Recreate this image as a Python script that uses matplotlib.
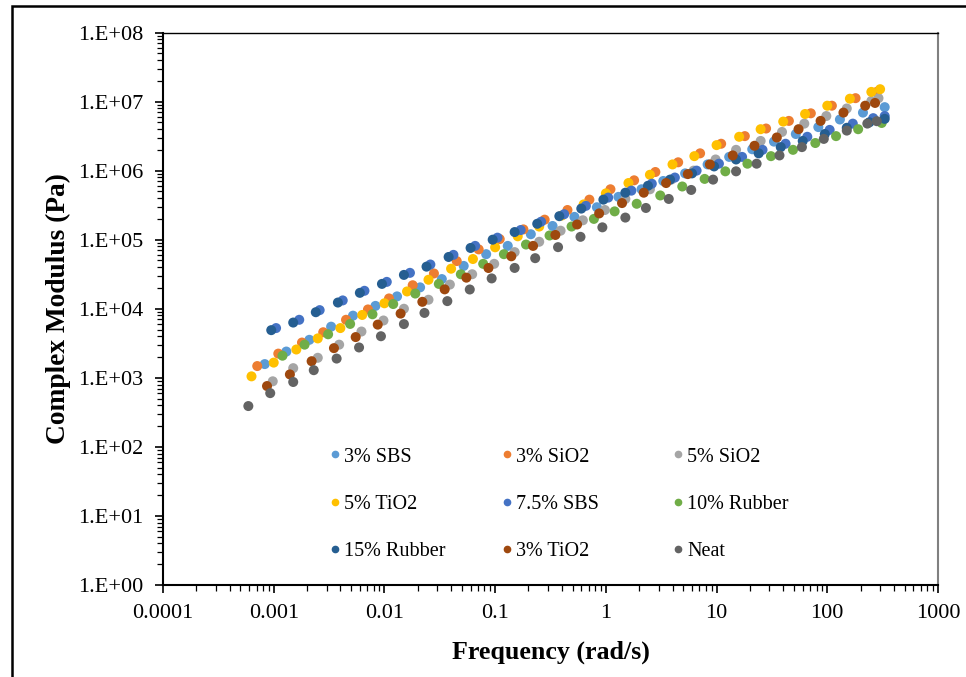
import numpy as np
import matplotlib.pyplot as plt
from matplotlib.ticker import LogLocator, FuncFormatter, NullFormatter
from matplotlib.patches import Rectangle
from matplotlib.legend import Legend

plt.rcParams['font.family'] = ['Liberation Serif', 'DejaVu Serif']

# Series names in legend order
labels = ['3% SBS', '3% SiO2', '5% SiO2', '5% TiO2', '7.5% SBS',
          '10% Rubber', '15% Rubber', '3% TiO2', 'Neat']
colors = ['#5B9BD5', '#ED7D31', '#A5A5A5', '#FFC000', '#4472C4',
          '#70AD47', '#255E91', '#9E480E', '#636363']

# frequency (rad/s) and complex modulus (Pa)
f_sbs3 = [8.3e-4, 1.3e-3, 2.1e-3, 3.3e-3, 5.2e-3, 8.3e-3, 0.013, 0.021, 0.033, 0.052,
          0.083, 0.13, 0.21, 0.33, 0.52, 0.83, 1.3, 2.1, 3.3, 5.2,
          8.3, 13, 21, 33, 52, 83, 130, 210, 330]
g_sbs3 = [1580, 2400, 3550, 5500, 7940, 11000, 15100, 20400, 26900, 41700,
          61700, 81300, 120000, 158000, 214000, 295000, 417000, 537000, 708000, 912000,
          1.23e6, 1.58e6, 2.04e6, 2.63e6, 3.39e6, 4.27e6, 5.5e6, 6.92e6, 8.3e6]

f_sio2_3 = [7.1e-4, 1.1e-3, 1.8e-3, 2.8e-3, 4.5e-3, 7.1e-3, 0.011, 0.018, 0.028, 0.045,
            0.071, 0.11, 0.18, 0.28, 0.45, 0.71, 1.1, 1.8, 2.8, 4.5,
            7.1, 11, 18, 28, 45, 71, 110, 180, 280]
g_sio2_3 = [1480, 2240, 3240, 4570, 6920, 9770, 14100, 21900, 32400, 49000,
            72400, 102000, 141000, 195000, 269000, 380000, 537000, 724000, 955000, 1.32e6,
            1.78e6, 2.45e6, 3.16e6, 4.07e6, 5.25e6, 6.76e6, 8.71e6, 1.12e7, 1.38e7]

f_sio2_5 = [9.8e-4, 1.5e-3, 2.5e-3, 3.9e-3, 6.2e-3, 9.8e-3, 0.015, 0.025, 0.039, 0.062,
            0.098, 0.15, 0.25, 0.39, 0.62, 0.98, 1.5, 2.5, 3.9, 6.2,
            9.8, 15, 25, 39, 62, 98, 150, 250, 290]
g_sio2_5 = [890, 1380, 1950, 3020, 4680, 6760, 10000, 13500, 22400, 31600,
            44700, 66100, 93300, 135000, 191000, 269000, 389000, 537000, 741000, 1.0e6,
            1.45e6, 2.0e6, 2.69e6, 3.63e6, 4.79e6, 6.17e6, 7.94e6, 1.02e7, 1.12e7]

f_tio2_5 = [6.3e-4, 1e-3, 1.6e-3, 2.5e-3, 4e-3, 6.3e-3, 0.01, 0.016, 0.025, 0.04,
            0.063, 0.1, 0.16, 0.25, 0.4, 0.63, 1, 1.6, 2.5, 4,
            6.3, 10, 16, 25, 40, 63, 100, 160, 250, 300]
g_tio2_5 = [1050, 1660, 2570, 3720, 5250, 8130, 12000, 17800, 26300, 38000,
            52500, 77600, 112000, 155000, 224000, 324000, 468000, 661000, 871000, 1.23e6,
            1.62e6, 2.34e6, 3.09e6, 3.98e6, 5.13e6, 6.61e6, 8.71e6, 1.1e7, 1.38e7, 1.51e7]

f_sbs75 = [1.05e-3, 1.7e-3, 2.6e-3, 4.2e-3, 6.6e-3, 0.0105, 0.017, 0.026, 0.042, 0.066,
           0.105, 0.17, 0.26, 0.42, 0.66, 1.05, 1.7, 2.6, 4.2, 6.6,
           10.5, 17, 26, 42, 66, 105, 170, 260, 330]
g_sbs75 = [5250, 6920, 9550, 13200, 18200, 24500, 33100, 43700, 60300, 81300,
           107000, 138000, 182000, 234000, 309000, 407000, 513000, 646000, 794000, 1.0e6,
           1.26e6, 1.58e6, 2.0e6, 2.45e6, 3.09e6, 3.89e6, 4.79e6, 5.75e6, 6.17e6]

f_rub10 = [1.2e-3, 1.9e-3, 3.1e-3, 4.9e-3, 7.8e-3, 0.012, 0.019, 0.031, 0.049, 0.078,
           0.12, 0.19, 0.31, 0.49, 0.78, 1.2, 1.9, 3.1, 4.9, 7.8,
           12, 19, 31, 49, 78, 120, 190, 310]
g_rub10 = [2090, 3020, 4270, 6030, 8320, 11700, 16600, 22900, 31600, 44700,
           61700, 85100, 115000, 155000, 200000, 257000, 331000, 437000, 589000, 759000,
           977000, 1.26e6, 1.62e6, 2.0e6, 2.51e6, 3.16e6, 3.98e6, 4.9e6]

f_rub15 = [9.5e-4, 1.5e-3, 2.4e-3, 3.8e-3, 6.0e-3, 9.5e-3, 0.015, 0.024, 0.038, 0.06,
           0.095, 0.15, 0.24, 0.38, 0.6, 0.95, 1.5, 2.4, 3.8, 6.0,
           9.5, 15, 24, 38, 60, 95, 150, 240, 330]
g_rub15 = [4900, 6310, 8910, 12300, 17000, 22900, 30900, 40700, 56200, 75900,
           100000, 129000, 170000, 219000, 282000, 380000, 479000, 603000, 741000, 912000,
           1.15e6, 1.45e6, 1.78e6, 2.19e6, 2.69e6, 3.39e6, 4.17e6, 5.01e6, 5.62e6]

f_tio2_3 = [8.7e-4, 1.4e-3, 2.2e-3, 3.5e-3, 5.5e-3, 8.7e-3, 0.014, 0.022, 0.035, 0.055,
            0.087, 0.14, 0.22, 0.35, 0.55, 0.87, 1.4, 2.2, 3.5, 5.5,
            8.7, 14, 22, 35, 55, 87, 140, 220, 270]
g_tio2_3 = [760, 1120, 1740, 2690, 3890, 5890, 8510, 12600, 19100, 28200,
            38900, 57500, 81300, 117000, 166000, 240000, 339000, 479000, 661000, 891000,
            1.23e6, 1.66e6, 2.29e6, 3.02e6, 3.98e6, 5.25e6, 6.92e6, 8.71e6, 9.55e6]

f_neat = [5.9e-4, 9.3e-4, 1.5e-3, 2.3e-3, 3.7e-3, 5.9e-3, 9.3e-3, 0.015, 0.023, 0.037,
          0.059, 0.093, 0.15, 0.23, 0.37, 0.59, 0.93, 1.5, 2.3, 3.7,
          5.9, 9.3, 15, 23, 37, 59, 93, 150, 230, 280]
g_neat = [390, 600, 870, 1290, 1900, 2750, 4000, 6000, 8700, 12900,
          19000, 27500, 39000, 54000, 78000, 110000, 151000, 209000, 288000, 389000,
          525000, 741000, 977000, 1.26e6, 1.66e6, 2.19e6, 2.88e6, 3.8e6, 4.8e6, 5.2e6]

freqs = [f_sbs3, f_sio2_3, f_sio2_5, f_tio2_5, f_sbs75, f_rub10, f_rub15, f_tio2_3, f_neat]
mods = [g_sbs3, g_sio2_3, g_sio2_5, g_tio2_5, g_sbs75, g_rub10, g_rub15, g_tio2_3, g_neat]

fig = plt.figure(figsize=(9.66, 6.77), dpi=100)
ax = fig.add_axes([163/966, 1-585/677, 775/966, 552.5/677])

handles = []
for f, g, c, lab in zip(freqs, mods, colors, labels):
    ax.scatter(f, g, s=52, color=c, edgecolors='none', zorder=3)
    h, = ax.plot([], [], 'o', color=c, markersize=4.5, label=lab)
    handles.append(h)

ax.set_xscale('log')
ax.set_yscale('log')
ax.set_xlim(1e-4, 1e3)
ax.set_ylim(1e0, 1e8)

ax.xaxis.set_major_locator(LogLocator(base=10, numticks=20))
ax.yaxis.set_major_locator(LogLocator(base=10, numticks=20))
ax.xaxis.set_minor_locator(LogLocator(base=10, subs=np.arange(2, 10), numticks=100))
ax.yaxis.set_minor_locator(LogLocator(base=10, subs=np.arange(2, 10), numticks=100))
ax.xaxis.set_minor_formatter(NullFormatter())
ax.yaxis.set_minor_formatter(NullFormatter())
ax.xaxis.set_major_formatter(FuncFormatter(lambda v, p: '%g' % v))
ax.yaxis.set_major_formatter(FuncFormatter(lambda v, p: '1.E+%02d' % round(np.log10(v))))

ax.tick_params(which='major', direction='out', length=6, width=1.2, labelsize=16, pad=8)
ax.tick_params(which='minor', direction='out', length=4, width=0.9)

for side in ['left', 'bottom']:
    ax.spines[side].set_linewidth(1.5)
ax.spines['top'].set_linewidth(1.0)
ax.spines['right'].set_color('#808080')
ax.spines['right'].set_linewidth(1.5)

ax.set_xlabel('Frequency (rad/s)', fontsize=18.7, fontweight='bold', labelpad=12)
ax.set_ylabel('Complex Modulus (Pa)', fontsize=19.7, fontweight='bold', labelpad=5)

# legend: 3 columns, laid out row by row like the original
col_x = [0.2155, 0.437, 0.658]
for j in range(3):
    leg = Legend(ax, [handles[j], handles[j + 3], handles[j + 6]],
                 [labels[j], labels[j + 3], labels[j + 6]],
                 loc='upper left', bbox_to_anchor=(col_x[j], 0.249),
                 frameon=False, fontsize=14.5, handlelength=0.5,
                 handletextpad=0.2, labelspacing=1.4, borderpad=0,
                 borderaxespad=0)
    ax.add_artist(leg)

# outer chart frame
fig.patches.append(Rectangle((12/966, -0.05), 1.0, 1.05 - 6/677, transform=fig.transFigure,
                             fill=False, edgecolor='black', linewidth=1.8))

fig.savefig('out.png', dpi=100)
